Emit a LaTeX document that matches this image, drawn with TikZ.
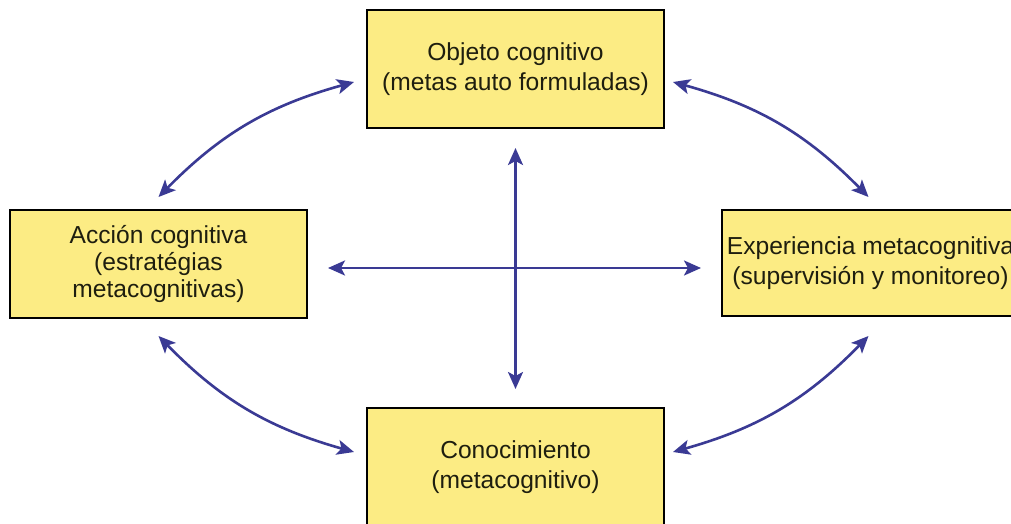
\documentclass[tikz,border=0pt]{standalone}
\usepackage{fontspec}
\setmainfont{Liberation Sans}
\usetikzlibrary{arrows.meta,calc}
\definecolor{boxfill}{RGB}{252,236,132}
\definecolor{arrowblue}{RGB}{58,58,148}
\definecolor{txt}{RGB}{30,30,15}
\tikzset{
  conceptbox/.style={draw=black, line width=2pt, fill=boxfill, text=txt,
    minimum width=297pt, inner sep=0pt, align=center,
    font=\fontsize{24.6}{30}\selectfont},
  link/.style={draw=arrowblue, line width=2.6pt,
    {Stealth[length=17pt,width=15pt,inset=4pt]}-{Stealth[length=17pt,width=15pt,inset=4pt]}}
}
\begin{document}
\begin{tikzpicture}[x=1pt,y=-1pt]
\clip (0,0) rectangle (1011,524);
\fill[white] (0,0) rectangle (1011,524);
\node[conceptbox, minimum height=118pt] (T) at (515.5,69) {Objeto cognitivo\\(metas auto formuladas)};
\node[conceptbox, minimum height=108pt, font=\fontsize{24.6}{27}\selectfont] (L) at (158.5,264) {Acción cognitiva\\(estratégias\\metacognitivas)};
\node[conceptbox, minimum height=106pt] (R) at (870.5,263) {Experiencia metacognitiva\\(supervisión y monitoreo)};
\node[conceptbox, minimum height=118pt] (B) at (515.5,467) {Conocimiento\\(metacognitivo)};
% cross
\draw[link] ($(T.south)+(0,19)$) -- ($(B.north)+(0,-18)$);
\draw[link] ($(L.east)+(20,4)$) -- ($(R.west)+(-20,5)$);
% curved
\draw[link] ($(L.north)+(0,-12)$) to[bend left=15] ($(T.west)+(-12,13)$);
\draw[link] ($(T.east)+(8,13)$) to[bend left=15] ($(R.north)+(-2,-12)$);
\draw[link] ($(R.south)+(-2,19)$) to[bend left=15] ($(B.east)+(8,-15)$);
\draw[link] ($(B.west)+(-12,-15)$) to[bend left=15] ($(L.south)+(0,17)$);
\end{tikzpicture}
\end{document}
